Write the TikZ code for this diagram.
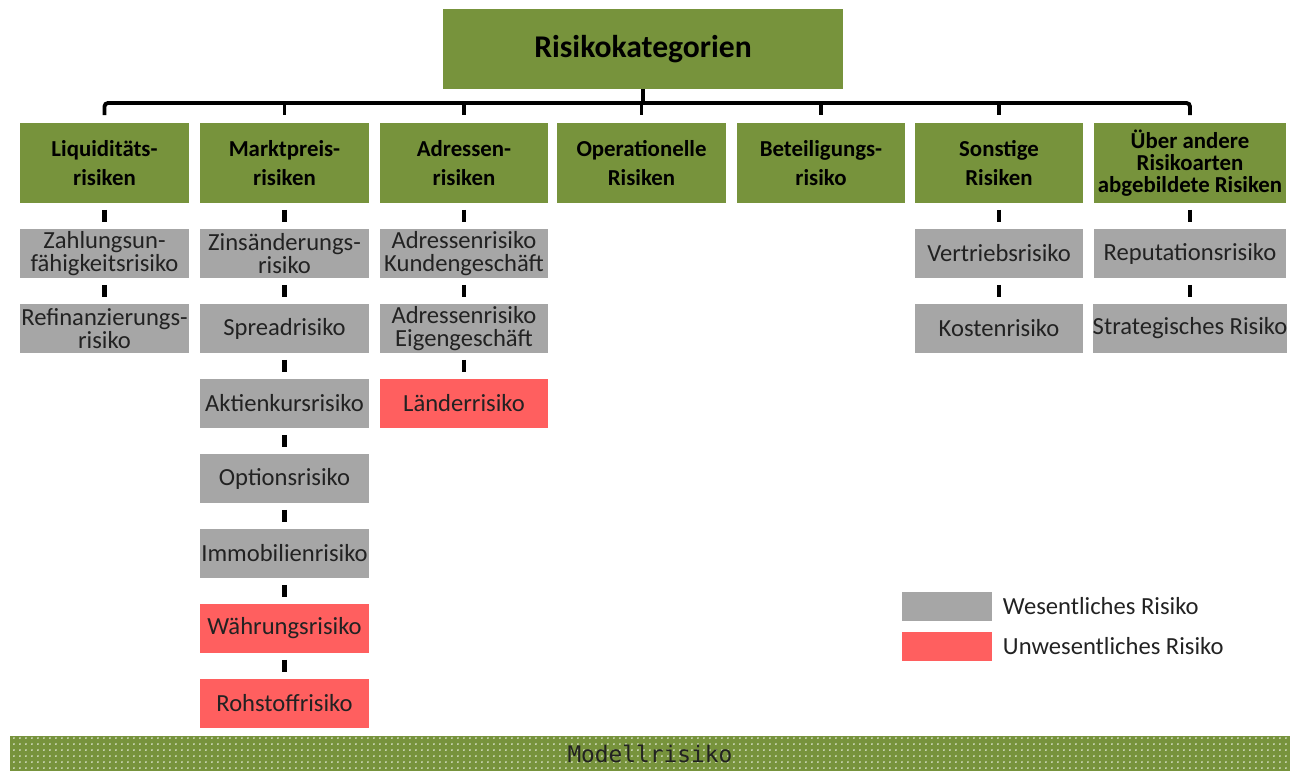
\documentclass[tikz,border=0pt]{standalone}
\usepackage{fontspec}
\setmainfont{Carlito}
\newfontfamily\modellfont{DejaVu Sans Mono}
\usepackage{xcolor}
\definecolor{riskgreen}{HTML}{77933C}
\definecolor{riskgray}{HTML}{A6A6A6}
\definecolor{riskred}{HTML}{FF5F5F}
\definecolor{risktext}{HTML}{222222}
\usetikzlibrary{positioning,patterns.meta}

\tikzdeclarepattern{name=modeldots, type=uncolored, bounding box={(0,0) and (3.4pt,3.4pt)}, tile size={(3.4pt,3.4pt)},
	code={\pgfpathcircle{\pgfqpoint{1.7pt}{1.7pt}}{0.55pt}\pgfusepath{fill}}}

\begin{document}
\begin{tikzpicture}[x=0.02cm, y=-0.02cm, outer sep=0pt,
		catbox/.style={fill=riskgreen, minimum width=3.38cm, minimum height=1.6cm, align=center, inner sep=1pt, font=\fontsize{13}{17}\selectfont\bfseries},
		subbox/.style={fill=riskgray, minimum width=3.38cm, minimum height=0.98cm, align=center, inner sep=0pt, text=risktext, font=\fontsize{14}{13}\selectfont},
		minor/.style={subbox, fill=riskred},
		widesub/.style={subbox, minimum width=3.86cm},
		conn/.style={line width=2.2pt, black},
		tick/.style={line width=2.6pt, black, shorten <=0.14cm, shorten >=0.14cm}]
	\useasboundingbox (0,0) rectangle (1302,771);

	\node[catbox, minimum width=8cm, font=\fontsize{18}{20}\selectfont\bfseries] (title) at (643,49) {Risikokategorien};

	\foreach \nm/\cx/\txt in {liq/104.5/{Liquiditäts-\\risiken}, markt/284.5/{Marktpreis-\\risiken}, adr/464/{Adressen-\\risiken}, oper/641.5/{Operationelle\\Risiken}, bet/821/{Beteiligungs-\\risiko}, sonst/999/{Sonstige\\Risiken}} {
		\node[catbox] (\nm) at (\cx,163) {\txt};
	}
	\node[catbox, minimum width=3.86cm, font=\fontsize{13}{12.5}\selectfont\bfseries] (ueber) at (1190,163) {Über andere\\Risikoarten\\abgebildete Risiken};

	\foreach \col/\i/\prev/\st/\txt in {liq/1/liq/subbox/{Zahlungsun-\\fähigkeitsrisiko}, liq/2/liq1/subbox/{Refinanzierungs-\\risiko},
			markt/1/markt/subbox/{Zinsänderungs-\\risiko}, markt/2/markt1/subbox/{Spreadrisiko}, markt/3/markt2/subbox/{Aktienkursrisiko},
			markt/4/markt3/subbox/{Optionsrisiko}, markt/5/markt4/subbox/{Immobilienrisiko}, markt/6/markt5/minor/{Währungsrisiko},
			markt/7/markt6/minor/{Rohstoffrisiko},
			adr/1/adr/subbox/{Adressenrisiko\\Kundengeschäft}, adr/2/adr1/subbox/{Adressenrisiko\\Eigengeschäft}, adr/3/adr2/minor/{Länderrisiko},
			sonst/1/sonst/subbox/{Vertriebsrisiko}, sonst/2/sonst1/subbox/{Kostenrisiko},
			ueber/1/ueber/widesub/{Reputationsrisiko}, ueber/2/ueber1/widesub/{Strategisches Risiko}} {
		\node[\st, below=0.52cm of \prev] (\col\i) {\txt};
		\draw[tick] (\prev) -- (\col\i);
	}

	\coordinate (bar) at (645,103);
	\draw[conn] (title) -- (title |- bar);
	\draw[conn, rounded corners=2pt, shorten <=0.16cm, shorten >=0.16cm] (liq.north) -- (liq.north |- bar) -- (ueber.north |- bar) -- (ueber.north);
	\foreach \nm in {markt,adr,oper,bet,sonst} {
		\draw[conn, shorten >=0.16cm] (\nm.north |- bar) -- (\nm.north);
	}

	\node[subbox, minimum width=1.8cm, minimum height=0.58cm] (legwes) at (947,606.5) {};
	\node[minor, minimum width=1.8cm, minimum height=0.58cm] (legunw) at (947,646.5) {};
	\node[right=0.22cm of legwes, inner sep=0pt, text=risktext, font=\fontsize{14}{15}\selectfont] (txtwes) {Wesentliches Risiko};
	\node[right=0.22cm of legunw, inner sep=0pt, text=risktext, font=\fontsize{14}{15}\selectfont] (txtunw) {Unwesentliches Risiko};

	\node[preaction={fill=riskgreen}, pattern=modeldots, pattern color=white!80!riskgreen, minimum width=25.6cm, minimum height=0.72cm, inner sep=0pt, text=risktext, font=\modellfont\fontsize{13}{14}\selectfont] (modell) at (650,754) {Modellrisiko};
\end{tikzpicture}
\end{document}
